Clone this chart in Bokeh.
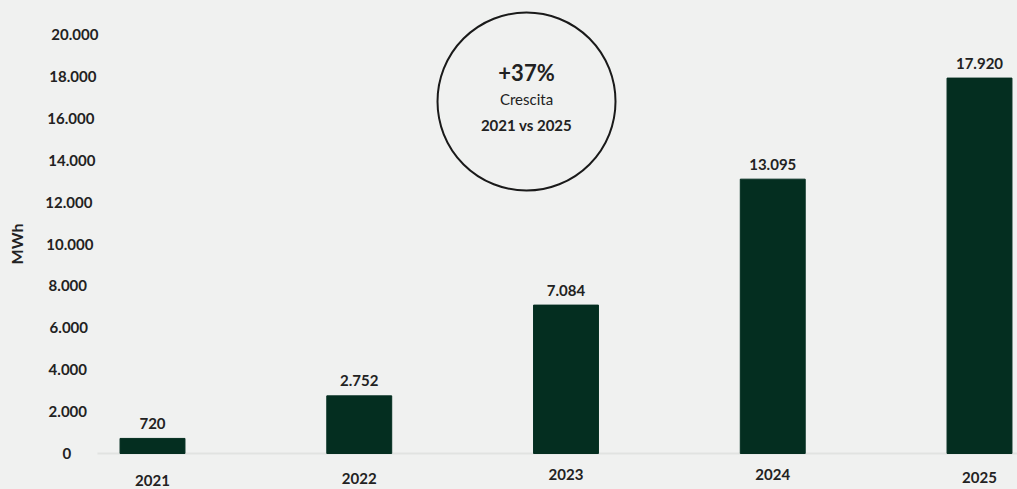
from bokeh.plotting import figure
from bokeh.models import Range1d, ColumnDataSource
from bokeh.core.properties import value
from bokeh.embed import file_html
from bokeh.resources import INLINE

# ---- data ----
years = ["2021", "2022", "2023", "2024", "2025"]
mwh = [720, 2752, 7084, 13095, 17920]
y_ticks = [0, 2000, 4000, 6000, 8000, 10000, 12000, 14000, 16000, 18000, 20000]
y_axis_title = "MWh"
badge_lines = ["+37%", "Crescita", "2021 vs 2025"]

# ---- styling / layout ----
BG = "#f0f1f0"
BAR = "#042e20"
TXT = "#222222"
FONT = value("Lato")
W, H = 1017, 489

def fmt(v):
    return f"{v:,}".replace(",", ".")

p = figure(width=W, height=H, output_backend="svg", toolbar_location=None,
           x_range=Range1d(-0.7352, 4.1838), y_range=Range1d(-1718, 21623),
           x_axis_location=None, y_axis_location=None, min_border=0,
           background_fill_color=BG, border_fill_color=BG, outline_line_color=None)
p.xgrid.visible = False
p.ygrid.visible = False

xs = list(range(len(years)))

# baseline
p.segment(x0=[-0.266], y0=[0], x1=[4.19], y1=[0], line_color="#e1e3e1", line_width=2)

# bars
src = ColumnDataSource(dict(x=xs, top=mwh, lab=[fmt(v) for v in mwh], yr=years))
p.vbar(x="x", top="top", bottom=0, width=0.314, source=src, fill_color=BAR, line_color=BAR)

# value labels
p.text(x="x", y="top", text="lab", source=src, text_align="center", text_baseline="middle",
       y_offset=-15, text_font=FONT, text_font_style="bold", text_font_size="15px", text_color=TXT)

# x category labels (slightly staggered as in the reference)
drop_px = [27, 25, 21, 21, 24]
p.text(x=xs, y=[0] * len(xs), text=years, y_offset=drop_px, text_align="center",
       text_baseline="middle", text_font=FONT, text_font_style="bold",
       text_font_size="15px", text_color=TXT)

# y tick labels (slight horizontal drift as in the reference)
tick_shift_px = [-3, -2, -2, -1, -2, 0, -1, 2, 1, 3, 5]
p.text(x=[-0.40] * len(y_ticks), y=y_ticks, text=[fmt(v) for v in y_ticks],
       x_offset=tick_shift_px, text_align="center", text_baseline="middle", text_font=FONT,
       text_font_style="bold", text_font_size="15px", text_color=TXT)

# y axis title
p.text(x=[-0.658], y=[(y_ticks[0] + y_ticks[-1]) / 2], text=[y_axis_title], angle=1.5708,
       text_align="center", text_baseline="middle", text_font=FONT,
       text_font_style="bold", text_font_size="16px", text_color=TXT)

# growth badge
cx, cy = 1.809, 16802
p.scatter(x=[cx], y=[cy], size=178, marker="circle", fill_color=None,
          line_color="#1a1a1a", line_width=2)
p.text(x=[cx], y=[cy], text=[badge_lines[0]], y_offset=-29, text_align="center",
       text_baseline="middle", text_font=FONT, text_font_style="bold",
       text_font_size="22px", text_color=TXT)
p.text(x=[cx], y=[cy], text=[badge_lines[1]], y_offset=-3, text_align="center",
       text_baseline="middle", text_font=FONT, text_font_style="normal",
       text_font_size="15px", text_color=TXT)
p.text(x=[cx], y=[cy], text=[badge_lines[2]], y_offset=23, text_align="center",
       text_baseline="middle", text_font=FONT, text_font_style="bold",
       text_font_size="15px", text_color=TXT)

html = file_html(p, INLINE).replace("<body>", '<body style="background:#f0f1f0">')
open("out.html", "w").write(html)
